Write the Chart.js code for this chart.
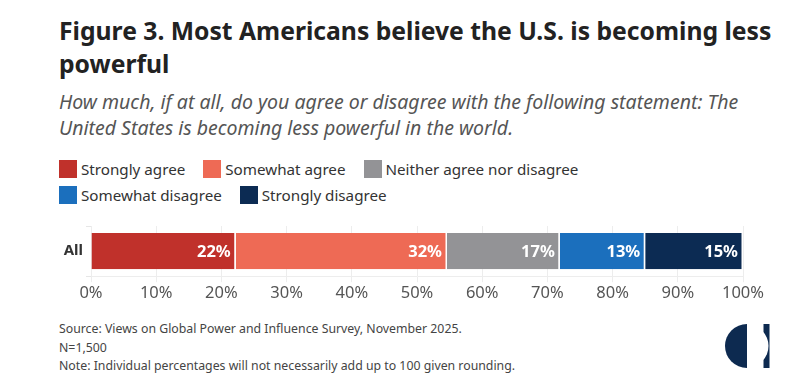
<!DOCTYPE html>
<html>
<head>
<meta charset="utf-8">
<script src="https://cdn.jsdelivr.net/npm/chart.js@4.4.1/dist/chart.umd.min.js"></script>
<style>
  html, body { margin: 0; padding: 0; background: #fff; }
  body { width: 800px; height: 392px; position: relative; overflow: hidden; font-family: "Noto Sans", sans-serif; }
  #title { position: absolute; left: 59px; top: 14px; width: 730px; font-size: 24.7px; font-weight: 700; line-height: 33px; color: #222; }
  #subtitle { position: absolute; left: 59px; top: 89px; width: 700px; font-size: 19.5px; font-style: italic; line-height: 26px; color: #555; }
  #legend { position: absolute; left: 59px; top: 158px; width: 620px; }
  .lg-item { display: inline-flex; align-items: center; margin-right: 18px; height: 22.5px; font-size: 15.2px; color: #333; }
  .lg-box { width: 18px; height: 18px; margin-right: 4px; }
  #wrap { position: absolute; left: 50px; top: 214px; width: 720px; height: 90px; }
  #foot { position: absolute; left: 59px; top: 320px; font-size: 12.3px; line-height: 18.5px; color: #444; }
  #logo { position: absolute; left: 725px; top: 324px; }
</style>
</head>
<body>
<div id="title">Figure 3. Most Americans believe the U.S. is becoming less powerful</div>
<div id="subtitle">How much, if at all, do you agree or disagree with the following statement: The United States is becoming less powerful in the world.</div>
<div id="legend"></div>
<div id="wrap"><canvas id="chart"></canvas></div>
<div id="foot">Source: Views on Global Power and Influence Survey, November 2025.<br>N=1,500<br>Note: Individual percentages will not necessarily add up to 100 given rounding.</div>
<svg id="logo" width="45" height="45" viewBox="0 0 45 45">
  <rect x="38.5" y="0" width="6" height="44" fill="#0d2a50"/>
  <path d="M22 0 A22 22 0 0 0 22 44 Z" fill="#0d2a50"/>
  <path d="M22 0.5 A21.5 21.5 0 0 1 22 43.5 Z" fill="#fff"/>
</svg>
<script>
// 分类与数据
const categories = ['All'];
const seriesNames = ['Strongly agree', 'Somewhat agree', 'Neither agree nor disagree', 'Somewhat disagree', 'Strongly disagree'];
const seriesValues = [22.2, 32.4, 17.3, 13.1, 15.0];
const seriesLabels = ['22%', '32%', '17%', '13%', '15%'];
const seriesColors = ['#c0312b', '#ee6a55', '#939396', '#1b6fbd', '#0c2b53'];
const xTicks = [0, 10, 20, 30, 40, 50, 60, 70, 80, 90, 100];

const FONT = '"Noto Sans", sans-serif';

// 图例（两行）
const legend = document.getElementById('legend');
seriesNames.forEach((name, i) => {
  if (i === 3) legend.appendChild(document.createElement('br'));
  const item = document.createElement('span');
  item.className = 'lg-item';
  item.innerHTML = `<span class="lg-box" style="background:${seriesColors[i]}"></span>${name}`;
  legend.appendChild(item);
});

// 条内数值标签
const barLabels = {
  id: 'barLabels',
  afterDatasetsDraw(chart) {
    const ctx = chart.ctx;
    ctx.save();
    ctx.font = 'bold 16.5px ' + FONT;
    ctx.fillStyle = '#fff';
    ctx.textAlign = 'right';
    ctx.textBaseline = 'middle';
    chart.data.datasets.forEach((ds, i) => {
      const bar = chart.getDatasetMeta(i).data[0];
      ctx.fillText(seriesLabels[i], bar.x - 5, bar.y + 1);
    });
    ctx.restore();
  },
};

new Chart(document.getElementById('chart'), {
  type: 'bar',
  data: {
    labels: categories,
    datasets: seriesNames.map((name, i) => ({
      label: name,
      data: [seriesValues[i]],
      backgroundColor: seriesColors[i],
      borderColor: '#fff',
      borderWidth: { left: 0, right: 1.5, top: 0, bottom: 0 },
      borderSkipped: false,
      barPercentage: 0.72,
      categoryPercentage: 1,
    })),
  },
  options: {
    indexAxis: 'y',
    responsive: true,
    maintainAspectRatio: false,
    animation: false,
    layout: { padding: { right: 27, top: 0 } },
    scales: {
      x: {
        stacked: true,
        min: 0,
        max: 100,
        afterBuildTicks: (axis) => { axis.ticks = xTicks.map(v => ({ value: v })); },
        ticks: { color: '#555', font: { size: 16.5, family: FONT }, callback: v => v + '%', padding: 1 },
        grid: { color: '#ededed', tickLength: 6 },
        border: { display: true, color: '#ededed' },
      },
      y: {
        stacked: true,
        afterFit: (axis) => { axis.width = 41; },
        ticks: { color: '#333', font: { size: 15, weight: 'bold', family: FONT }, padding: 3 },
        grid: { drawOnChartArea: false, color: '#e6e6e6', tickLength: 5 },
        border: { display: false },
      },
    },
    plugins: { legend: { display: false }, tooltip: { enabled: false } },
  },
  plugins: [barLabels],
});
</script>
</body>
</html>
